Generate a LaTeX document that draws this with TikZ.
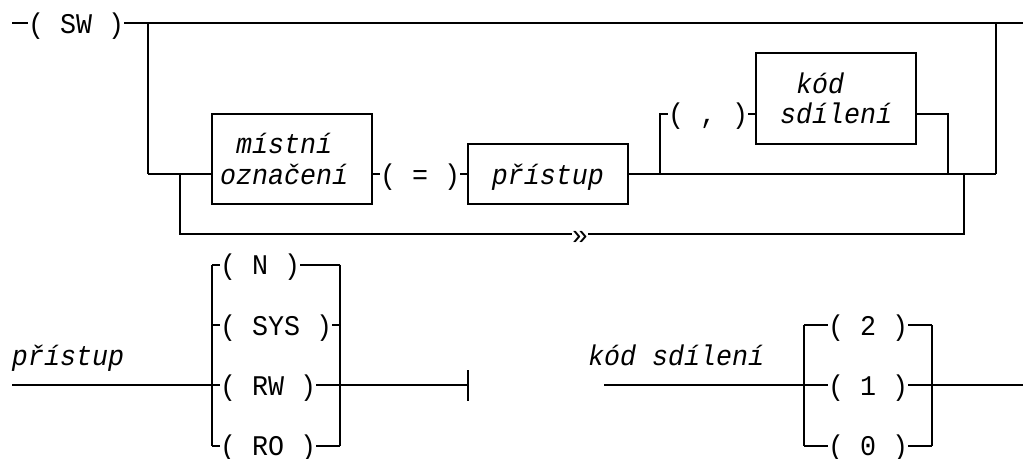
\documentclass[tikz,border=0pt]{standalone}
\usepackage{fontspec}
% taller glyphs on a 16pt advance
\newfontfamily\railmono{Liberation Mono}[WordSpace={1,0,0},FakeStretch=0.9357]
\newcommand\railfont{\railmono\fontsize{28.5pt}{30.2pt}\selectfont}
% character grid: 16pt columns, 30.2pt rows
\newcommand\CX[1]{(20+16*(#1))}
\newcommand\LX[1]{(12+16*(#1))}
\newcommand\RY[1]{(23+30.2*(#1))}
\begin{document}
\begin{tikzpicture}[x=1pt,y=-1pt,
  rail/.style={line width=2pt,line cap=butt},
  term/.style={inner sep=0pt,outer sep=0pt,text height=20pt,text depth=0pt,anchor=west,font=\railfont},
  nterm/.style={term,font=\railfont\itshape},
  boxnode/.style={draw,line width=2pt,inner sep=0pt,outer sep=0pt,text height=20pt,text depth=0pt,font=\railfont\itshape}]
\useasboundingbox[fill=white] (0,0) rectangle (1023,458);

% ---------- SW statement ----------
\coordinate (start) at ({\LX{0}},{\RY{0}});
\node[term] (sw) at ({\LX{1}},{\RY{0}}) {( SW )};
\coordinate (topL) at ({\CX{8}},{\RY{0}});
\coordinate (topR) at ({\CX{61}},{\RY{0}});
\coordinate (topEnd) at (1023,{\RY{0}});
\coordinate (mainL) at ({\CX{8}},{\RY{5}});
\coordinate (mainR) at ({\CX{61}},{\RY{5}});
\draw[rail] (start) -- (sw.west);
\draw[rail] (sw.east) -- (topEnd);
\draw[rail] (topL) -- (mainL);
\draw[rail] (topR) -- (mainR);

% local name box
\node[boxnode,minimum width=160pt,minimum height=90.6pt] (mo) at ({\CX{17}},{(\RY{3}+\RY{6})/2}) {};
\node[nterm] (mo1) at ({\LX{14}},{\RY{4}}) {místní};
\node[nterm] (mo2) at ({\LX{13}},{\RY{5}}) {označení};
\draw[rail] (mainL) -- (mo.west |- mainL);

% bypass loop with the continuation mark
\coordinate (loopL) at ({\CX{10}},{\RY{5}});
\coordinate (loopLb) at ({\CX{10}},{\RY{7}});
\coordinate (loopRb) at ({\CX{59}},{\RY{7}});
\coordinate (loopR) at ({\CX{59}},{\RY{5}});
\node[term] (skip) at ({\LX{35}},{\RY{7}}) {»};
\draw[rail] (loopL) -- (loopLb) -- (skip.west);
\draw[rail] (skip.east) -- (loopRb) -- (loopR);

% = and access box
\node[term] (eq) at ({\LX{23}},{\RY{5}}) {( = )};
\draw[rail] (mo.east |- eq) -- (eq.west);
\node[boxnode,minimum width=160pt,minimum height=60.4pt] (pr) at ({\CX{33}},{\RY{5}}) {přístup};
\draw[rail] (eq.east) -- (pr.west);
\draw[rail] (pr.east) -- (mainR);

% optional sharing code
\coordinate (optL) at ({\CX{40}},{\RY{5}});
\coordinate (optLt) at ({\CX{40}},{\RY{3}});
\node[term] (comma) at ({\LX{41}},{\RY{3}}) {( , )};
\node[boxnode,minimum width=160pt,minimum height=90.6pt] (kd) at ({\CX{51}},{(\RY{1}+\RY{4})/2}) {};
\node[nterm] (kd1) at ({\LX{49}},{\RY{2}}) {kód};
\node[nterm] (kd2) at ({\LX{48}},{\RY{3}}) {sdílení};
\coordinate (optRt) at ({\CX{58}},{\RY{3}});
\coordinate (optR) at ({\CX{58}},{\RY{5}});
\draw[rail] (optL) -- (optLt) -- (comma.west);
\draw[rail] (comma.east) -- (kd.west |- comma);
\draw[rail] (kd.east |- comma) -- (optRt) -- (optR);

% ---------- access ----------
\node[nterm] (acclbl) at ({\LX{0}},{\RY{11}}) {přístup};
\coordinate (accIn) at ({\LX{0}},{\RY{12}});
\coordinate (aL8) at ({\CX{12}},{\RY{8}});
\coordinate (aL14) at ({\CX{12}},{\RY{14}});
\coordinate (aR8) at ({\CX{20}},{\RY{8}});
\coordinate (aR14) at ({\CX{20}},{\RY{14}});
\coordinate (accEnd) at ({\CX{28}},{\RY{12}});
\coordinate (barT) at ({\CX{28}},{\RY{11.5}});
\coordinate (barB) at ({\CX{28}},{\RY{12.5}});
\node[term] (aN) at ({\LX{13}},{\RY{8}}) {( N )};
\node[term] (aSYS) at ({\LX{13}},{\RY{10}}) {( SYS )};
\node[term] (aRW) at ({\LX{13}},{\RY{12}}) {( RW )};
\node[term] (aRO) at ({\LX{13}},{\RY{14}}) {( RO )};
\draw[rail] (aL8) -- (aL14);
\draw[rail] (aR8) -- (aR14);
\draw[rail] (aL8) -- (aN.west);
\draw[rail] (aN.east) -- (aR8);
\draw[rail] (aL8 |- aSYS) -- (aSYS.west);
\draw[rail] (aSYS.east) -- (aR8 |- aSYS);
\draw[rail] (accIn) -- (aRW.west);
\draw[rail] (aRW.east) -- (accEnd);
\draw[rail] (barT) -- (barB);
\draw[rail] (aL14) -- (aRO.west);
\draw[rail] (aRO.east) -- (aR14);

% ---------- sharing code ----------
\node[nterm] (kdlbl) at ({\LX{36}},{\RY{11}}) {kód sdílení};
\coordinate (kIn) at ({\LX{37}},{\RY{12}});
\coordinate (kOut) at (1023,{\RY{12}});
\coordinate (kL10) at ({\CX{49}},{\RY{10}});
\coordinate (kL14) at ({\CX{49}},{\RY{14}});
\coordinate (kR10) at ({\CX{57}},{\RY{10}});
\coordinate (kR14) at ({\CX{57}},{\RY{14}});
\node[term] (k2) at ({\LX{51}},{\RY{10}}) {( 2 )};
\node[term] (k1) at ({\LX{51}},{\RY{12}}) {( 1 )};
\node[term] (k0) at ({\LX{51}},{\RY{14}}) {( 0 )};
\draw[rail] (kL10) -- (kL14);
\draw[rail] (kR10) -- (kR14);
\draw[rail] (kL10) -- (k2.west);
\draw[rail] (k2.east) -- (kR10);
\draw[rail] (kIn) -- (k1.west);
\draw[rail] (k1.east) -- (kOut);
\draw[rail] (kL14) -- (k0.west);
\draw[rail] (k0.east) -- (kR14);
\end{tikzpicture}
\end{document}
